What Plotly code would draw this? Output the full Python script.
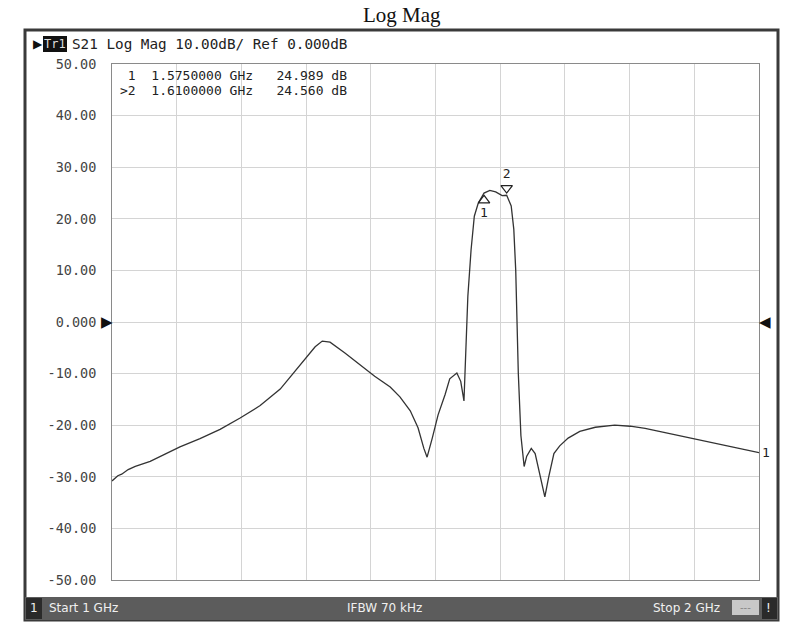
import plotly.graph_objects as go

# ---- data ----
freq_ghz = [1.000, 1.009, 1.015, 1.025, 1.036, 1.046, 1.059, 1.082, 1.105, 1.136,
            1.167, 1.198, 1.229, 1.260, 1.291, 1.314, 1.325, 1.337, 1.360, 1.383,
            1.406, 1.430, 1.445, 1.461, 1.473, 1.482, 1.487, 1.495, 1.504, 1.515,
            1.522, 1.533, 1.539, 1.544, 1.547, 1.550, 1.555, 1.560, 1.566, 1.575,
            1.584, 1.593, 1.603, 1.610, 1.617, 1.621, 1.624, 1.628, 1.632, 1.637,
            1.641, 1.648, 1.654, 1.662, 1.669, 1.675, 1.683, 1.692, 1.705, 1.723,
            1.747, 1.777, 1.801, 1.824, 1.847, 1.878, 1.909, 1.940, 1.971, 1.986,
            2.000]
s21_db = [-30.8, -29.8, -29.5, -28.6, -28.0, -27.6, -27.0, -25.6, -24.2, -22.6,
          -20.8, -18.6, -16.2, -13.0, -8.4, -4.8, -3.7, -3.9, -6.0, -8.3,
          -10.5, -12.6, -14.5, -17.2, -20.5, -24.5, -26.2, -22.5, -18.0, -14.0,
          -11.0, -9.9, -11.5, -15.3, -5.0, 5.0, 14.0, 20.5, 23.0, 24.99,
          25.5, 25.2, 24.5, 24.56, 22.5, 18.0, 10.0, -10.0, -22.0, -28.0,
          -26.0, -24.5, -25.5, -30.0, -33.9, -30.0, -25.5, -24.0, -22.5, -21.2,
          -20.4, -20.0, -20.2, -20.6, -21.2, -22.0, -22.8, -23.6, -24.5, -24.8,
          -25.3]

marker_ids = ["1", "2"]
marker_freq_ghz = [1.575, 1.610]
marker_db = [24.989, 24.560]
marker_rows = [" 1", ">2"]
marker_freq_text = ["1.5750000 GHz", "1.6100000 GHz"]
marker_val_text = ["24.989 dB", "24.560 dB"]

y_tickvals = [50, 40, 30, 20, 10, 0, -10, -20, -30, -40, -50]
y_ticktext = ["50.00", "40.00", "30.00", "20.00", "10.00", "0.000",
              "-10.00", "-20.00", "-30.00", "-40.00", "-50.00"]

# ---- layout helpers (pixel -> paper) ----
L, R, T, B = 112, 759, 64, 580
def px(x):
    return (x - L) / (R - L)
def py(y):
    return (B - y) / (B - T)

UI = "DejaVu Sans"
MONO = "DejaVu Sans Mono"

fig = go.Figure()
fig.add_trace(go.Scatter(x=freq_ghz, y=s21_db, mode="lines",
                         line=dict(color="#333333", width=1.3),
                         hoverinfo="skip", showlegend=False))
# on-trace markers
fig.add_trace(go.Scatter(x=[marker_freq_ghz[0]], y=[marker_db[0] - 1.4],
                         mode="markers+text", text=[marker_ids[0]],
                         textposition="bottom center",
                         textfont=dict(family=MONO, size=13, color="#222"),
                         marker=dict(symbol="triangle-up-open", size=10,
                                     color="#222", line=dict(width=1.2)),
                         showlegend=False, hoverinfo="skip"))
fig.add_trace(go.Scatter(x=[marker_freq_ghz[1]], y=[marker_db[1] + 1.4],
                         mode="markers+text", text=[marker_ids[1]],
                         textposition="top center",
                         textfont=dict(family=MONO, size=13, color="#222"),
                         marker=dict(symbol="triangle-down-open", size=10,
                                     color="#222", line=dict(width=1.2)),
                         showlegend=False, hoverinfo="skip"))
# bottom stimulus markers
fig.add_trace(go.Scatter(x=[marker_freq_ghz[0]], y=[-51.6], mode="markers",
                         marker=dict(symbol="triangle-up-open", size=12,
                                     color="#222", line=dict(width=1.5)),
                         cliponaxis=False, showlegend=False, hoverinfo="skip"))
fig.add_trace(go.Scatter(x=[marker_freq_ghz[1]], y=[-51.6], mode="markers",
                         marker=dict(symbol="triangle-up", size=12, color="#111"),
                         cliponaxis=False, showlegend=False, hoverinfo="skip"))

shapes = [
    dict(type="rect", xref="paper", yref="paper", x0=px(25), x1=px(778),
         y0=py(620), y1=py(30), line=dict(color="#3a3a3a", width=3),
         fillcolor="rgba(0,0,0,0)", layer="below"),
    dict(type="rect", xref="paper", yref="paper", x0=px(25), x1=px(778),
         y0=py(620), y1=py(597), line=dict(width=0), fillcolor="#5c5c5c"),
    dict(type="rect", xref="paper", yref="paper", x0=px(26), x1=px(42),
         y0=py(619), y1=py(598), line=dict(width=0), fillcolor="#2a2a2a"),
    dict(type="rect", xref="paper", yref="paper", x0=px(732), x1=px(759),
         y0=py(615), y1=py(600), line=dict(width=0), fillcolor="#c8c8c8"),
    dict(type="rect", xref="paper", yref="paper", x0=px(762), x1=px(777),
         y0=py(619), y1=py(598), line=dict(width=0), fillcolor="#2a2a2a"),
    dict(type="rect", xref="paper", yref="paper", x0=px(43), x1=px(67),
         y0=py(52), y1=py(36), line=dict(width=0), fillcolor="#111111"),
]

ann = []
def txt(x, y, s, size=12, color="#222", anchor="center", family=UI, yref="paper", xref="paper", yanchor="middle"):
    ann.append(dict(x=x, y=y, xref=xref, yref=yref, text=s, showarrow=False,
                    xanchor=anchor, yanchor=yanchor,
                    font=dict(family=family, size=size, color=color)))

def nb(s):
    return s.replace(">", "&gt;").replace(" ", "&nbsp;")

txt(px(402), py(15), "Log Mag", size=21, color="#111", family="Liberation Serif")
txt(px(38), py(44), "▶", size=12, color="#111")
txt(px(55), py(44), "Tr1", size=12, color="#dddddd", family=MONO)
txt(px(70), py(44), "S21 Log Mag 10.00dB/ Ref 0.000dB", size=14.3, color="#222",
    anchor="left", family=MONO)

# marker table: base size sets the line pitch, glyphs drawn via inner span
rows = [nb(marker_rows[i] + "  " + marker_freq_text[i] + "   " + marker_val_text[i])
        for i in range(len(marker_rows))]
table = "<br>".join('<span style="font-size:13px">' + r + "</span>" for r in rows)
txt(px(118), py(66), table, size=11.3, color="#222", anchor="left", family=MONO, yanchor="top")

txt(px(34), py(608), "1", size=12, color="#f0f0f0")
txt(px(47), py(608), "Start 1 GHz", size=12, color="#f0f0f0", anchor="left")
txt(px(384), py(608), "IFBW 70 kHz", size=12, color="#f0f0f0")
txt(px(722), py(608), "Stop 2 GHz", size=12, color="#f0f0f0", anchor="right")
txt(px(745), py(607), "---", size=10, color="#888888")
txt(px(769), py(608), "!", size=12, color="#f0f0f0")

# reference-level arrows
txt(px(107), 0, "▶", size=15, color="#111", yref="y")
txt(px(765), 0, "◀", size=15, color="#111", yref="y")
# trace end label
ann.append(dict(x=freq_ghz[-1], y=s21_db[-1], xref="x", yref="y", text="1",
                showarrow=False, xanchor="left", yanchor="middle", xshift=1,
                font=dict(family=MONO, size=13, color="#222")))

fig.update_layout(
    width=800, height=642,
    margin=dict(l=L, r=800 - R, t=T, b=642 - B),
    paper_bgcolor="white", plot_bgcolor="white",
    shapes=shapes, annotations=ann, showlegend=False,
    xaxis=dict(range=[1, 2], dtick=0.1, tick0=1, showticklabels=False,
               showgrid=True, gridcolor="#d4d4d4", gridwidth=1,
               showline=True, linecolor="#8a8a8a", linewidth=1, mirror=True,
               zeroline=False, ticks=""),
    yaxis=dict(range=[-50, 50], tickvals=y_tickvals, ticktext=y_ticktext,
               showgrid=True, gridcolor="#d4d4d4", gridwidth=1,
               showline=True, linecolor="#8a8a8a", linewidth=1, mirror=True,
               zeroline=False, ticks="outside", ticklen=12,
               tickcolor="rgba(0,0,0,0)",
               tickfont=dict(family=MONO, size=13.5, color="#444")),
)

fig.write_html("out.html", config={"displayModeBar": False},
               post_script="document.body.style.margin='0';document.body.style.overflow='hidden';")
